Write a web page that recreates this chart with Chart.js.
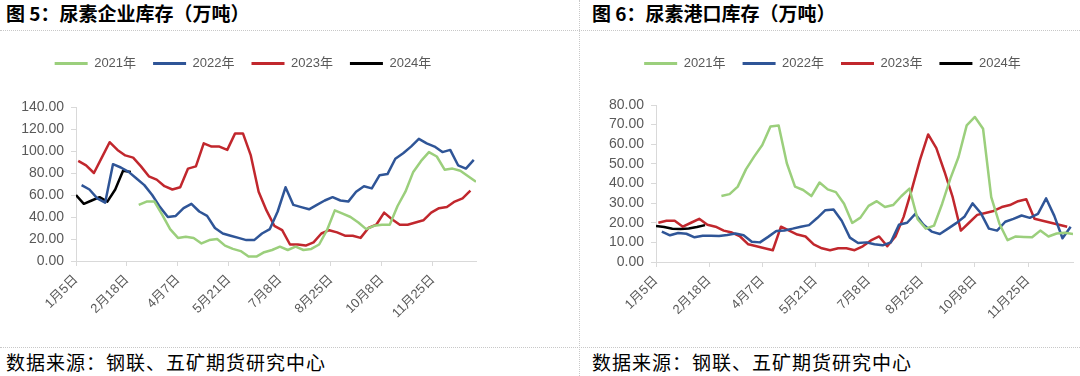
<!DOCTYPE html>
<html>
<head>
<meta charset="utf-8">
<script src="https://cdn.jsdelivr.net/npm/chart.js@4.4.1/dist/chart.umd.min.js"></script>
<style>
  body { margin:0; width:1080px; height:376px; background:#fff; position:relative; overflow:hidden; font-family:"Noto Sans CJK SC", sans-serif; }
  .title { position:absolute; top:1px; font-size:19px; font-weight:bold; line-height:24px; color:#000; white-space:nowrap; }
  .src { position:absolute; top:350px; font-size:19px; line-height:24px; color:#000; letter-spacing:1px; white-space:nowrap; }
  .hline { position:absolute; left:0; width:1080px; border-top:1px dotted #c8c8c8; }
  .vline { position:absolute; top:0; left:579px; height:376px; border-left:1px dotted #c8c8c8; }
  .box { position:absolute; top:40px; height:300px; }
</style>
</head>
<body>
<div class="title" style="left:6px">图 5：尿素企业库存（万吨）</div>
<div class="title" style="left:592px">图 6：尿素港口库存（万吨）</div>
<div class="hline" style="top:30px"></div>
<div class="hline" style="top:347px"></div>
<div class="vline"></div>
<div class="box" style="left:0;width:540px"><canvas id="entChart"></canvas></div>
<div class="box" style="left:580px;width:500px"><canvas id="portChart"></canvas></div>
<div class="src" style="left:6px">数据来源：钢联、五矿期货研究中心</div>
<div class="src" style="left:592px">数据来源：钢联、五矿期货研究中心</div>

<script>
// x axis: days since 1月5日, one point per week
const tickLabels = ['1月5日','2月18日','4月7日','5月21日','7月8日','8月25日','10月8日','11月25日'];
const tickStepDays = 45.5;
const axisDays = 357;

const yearNames = ['2021年','2022年','2023年','2024年'];
const startDays = [0, 5, 2, 0];   // first weekly date of each year, in days after 1月5日

// 企业库存 (万吨), weekly
const ent2021 = [null,null,null,null,null,null,null,null,
  51,54,54,42,29,21,22,21,16,19,20,14,11,9,4,4,8,10,13,10,13,10,11,15,28,46,43,40,35,29,32,33,33,50,63,81,91,99,95,83,84,82,77,72];
const ent2022 = [69,65,57,53,88,85,81,75,69,60,49,40,41,48,52,45,41,30,25,23,21,19,19,25,29,45,67,51,49,47,51,55,58,55,54,63,68,66,78,79,93,98,104,111,107,104,99,101,87,84,92];
const ent2023 = [91,87,80,94,108,101,96,94,86,77,74,68,65,67,84,86,107,104,104,101,116,116,96,63,46,32,28,15,15,14,17,25,28,26,23,23,21,30,33,44,38,33,33,35,37,44,48,49,54,57,64];
const ent2024 = [60,52,55,58,54,65,82,81];

// 港口库存 (万吨), weekly
const port2021 = [null,null,null,null,null,null,null,null,
  33.6,34.6,38.4,47.2,53.7,59.6,69,69.5,50.3,38.4,36.7,33.6,40.5,37,35.6,29.7,19.9,22.6,28.6,31,28,29,33.5,37.4,21.8,17,18.5,29.7,42.5,53.5,69.6,73.9,67.9,33.1,19.5,11.1,13,12.8,12.6,16,13,14.5,14.9,14.3];
const port2022 = [15.5,13.6,14.8,14.4,12.6,13.4,13.4,13.3,13.8,14.5,13.6,10.3,10,12.8,15.8,16.1,17,18,18.8,22.4,26.4,26.8,21,12.4,9.7,10,9,8.5,10,19,20,24.5,19,15.5,14.3,17,19.8,23,29.9,25,17,16,20.5,22,23.7,22.5,24.5,32.4,23.5,12.1,18];
const port2023 = [20,21,21,18,20,22,19,18,16,15,13,9,8,7,6,18,16,14,13,9,7,6,7,7,6,8,11,13,8,13,23,37,52,65,58,46,33,16,20,24,25,26,28,29,31,32,22,21,20,19,18];
const port2024 = [18.3,17.8,16.9,16.8,17.1,17.8,18.8];

const lineColors = ['#9bcf7c','#2f5597','#c1272d','#000000'];
const labelGrey = '#595959';
const axisGrey = '#d9d9d9';
const fontFamily = '"Liberation Sans", "Noto Sans CJK SC", sans-serif';

function weekly(values, startDay){
    return values.map((v, i) => ({ x: startDay + 7 * i, y: v }));
}

// fixes the legend block height so the plot top lands where it should
const legendHeightPlugin = {
    id: 'legendHeight',
    beforeInit(chart){
        const fit = chart.legend.fit;
        const h = chart.options.legendBlockHeight;
        chart.legend.fit = function(){ fit.call(this); this.height = h; };
    }
};

function drawChart(canvasId, seriesList, yMax, yStep, cfg){
    new Chart(document.getElementById(canvasId), {
        type: 'line',
        data: {
            datasets: seriesList.map((values, k) => ({
                label: yearNames[k],
                data: weekly(values, startDays[k]),
                borderColor: lineColors[k],
                backgroundColor: lineColors[k],
                borderWidth: 2.5,
                borderJoinStyle: 'round',
                pointRadius: 0,
                tension: 0,
                spanGaps: false
            }))
        },
        options: {
            responsive: true,
            maintainAspectRatio: false,
            animation: false,
            events: [],
            legendBlockHeight: cfg.legendHeight,
            layout: { padding: { left: cfg.padLeft, right: cfg.padRight, top: 0, bottom: 0 } },
            plugins: {
                tooltip: { enabled: false },
                legend: {
                    position: 'top',
                    labels: {
                        boxWidth: 33,
                        boxHeight: 3,
                        padding: 17,
                        color: labelGrey,
                        font: { family: fontFamily, size: 13 },
                        generateLabels: chart => Chart.defaults.plugins.legend.labels.generateLabels(chart)
                            .map(l => Object.assign(l, { lineWidth: 0, fillStyle: l.strokeStyle }))
                    }
                }
            },
            scales: {
                x: {
                    type: 'linear',
                    min: 0,
                    max: axisDays,
                    afterBuildTicks: scale => { scale.ticks = tickLabels.map((_, k) => ({ value: k * tickStepDays })); },
                    afterFit: scale => { scale.height = cfg.xHeight; },
                    grid: { display: true, drawOnChartArea: false, drawTicks: true, tickLength: 5, color: axisGrey },
                    border: { color: axisGrey, width: 1 },
                    ticks: {
                        autoSkip: false,
                        minRotation: 45,
                        maxRotation: 45,
                        padding: 6,
                        color: labelGrey,
                        font: { family: fontFamily, size: 13 },
                        callback: (v, idx) => tickLabels[idx]
                    }
                },
                y: {
                    min: 0,
                    max: yMax,
                    afterBuildTicks: scale => {
                        const ticks = [];
                        for (let v = 0; v <= yMax; v += yStep) ticks.push({ value: v });
                        scale.ticks = ticks;
                    },
                    afterFit: scale => { scale.width = cfg.yWidth; },
                    grid: { display: true, drawOnChartArea: false, drawTicks: true, tickLength: 5, color: axisGrey },
                    border: { color: axisGrey, width: 1 },
                    ticks: {
                        autoSkip: false,
                        padding: 7,
                        color: labelGrey,
                        font: { family: fontFamily, size: 14 },
                        callback: v => v.toFixed(2)
                    }
                }
            }
        },
        plugins: [legendHeightPlugin]
    });
}

drawChart('entChart', [ent2021, ent2022, ent2023, ent2024], 140, 20,
    { padLeft: 10, padRight: 64, yWidth: 66, legendHeight: 67, xHeight: 79 });
drawChart('portChart', [port2021, port2022, port2023, port2024], 80, 10,
    { padLeft: 12, padRight: 7, yWidth: 64, legendHeight: 65, xHeight: 78 });
</script>
</body>
</html>
